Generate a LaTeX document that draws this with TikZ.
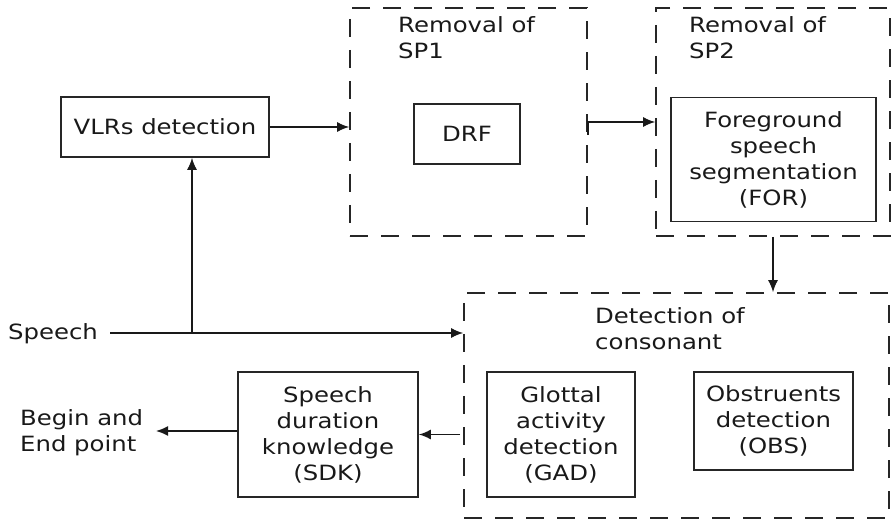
\documentclass[tikz,border=0pt]{standalone}
\usepackage{fontspec}
\setmainfont[FakeStretch=1.16]{DejaVu Sans}
\usetikzlibrary{arrows.meta}
\begin{document}
\begin{tikzpicture}[x=1pt,y=-1pt,
  every node/.style={font=\fontsize{21}{26}\selectfont, text=black!90},
  blk/.style={draw=black!85, line width=1.6pt, inner sep=0pt, align=center},
  dbox/.style={draw=black!85, line width=1.6pt, dash pattern=on 18pt off 13pt, inner sep=0pt},
  lbl/.style={inner sep=0pt, align=left},
  arr/.style={draw=black!90, line width=1.6pt, -{Latex[length=12pt,width=10pt]}},
  ln/.style={draw=black!90, line width=1.6pt}]
\useasboundingbox (0,0) rectangle (892,521);
% dashed groups
\node[dbox, minimum width=237pt, minimum height=228pt] (sp1) at (468.5,122) {};
\node[dbox, minimum width=234pt, minimum height=228pt] (sp2) at (773,122) {};
\node[dbox, minimum width=425pt, minimum height=225pt] (cons) at (676.5,405.5) {};
% group titles
\node[lbl, anchor=north west] (t1) at (398,16) {Removal of\\SP1};
\node[lbl, anchor=north west] (t2) at (689,16) {Removal of\\SP2};
\node[lbl, anchor=north west] (t3) at (595,307) {Detection of\\consonant};
% blocks
\node[blk, minimum width=208pt, minimum height=60pt] (vlr) at (165,127) {VLRs detection};
\node[blk, minimum width=106pt, minimum height=60pt] (drf) at (467,134) {DRF};
\node[blk, minimum width=205pt, minimum height=124pt] (for) at (773.5,159.5) {Foreground\\speech\\segmentation\\(FOR)};
\node[blk, minimum width=148pt, minimum height=125pt] (gad) at (561,434.5) {Glottal\\activity\\detection\\(GAD)};
\node[blk, minimum width=159pt, minimum height=98pt] (obs) at (773.5,421) {Obstruents\\detection\\(OBS)};
\node[blk, minimum width=180pt, minimum height=125pt] (sdk) at (328,434.5) {Speech\\duration\\knowledge\\(SDK)};
% free labels
\node[lbl, anchor=base west] (sp) at (8,340) {Speech};
\node[lbl, anchor=north west] (bep) at (20,409) {Begin and\\End point};
% connectors
\coordinate (spin) at (110,333);
\coordinate (jn) at (192,333);
\draw[arr] (spin) -- (spin -| cons.west);
\draw[arr] (jn) -- (jn |- vlr.south);
\draw[arr] (vlr.east) -- (vlr.east -| sp1.west);
\draw[arr] ([yshift=-13pt]sp1.east) -- (sp1.east) -- (sp1.east -| sp2.west);
\draw[arr] (sp2.south) -- (sp2.south |- cons.north);
\draw[arr] ([xshift=-3pt]cons.west |- sdk.east) -- (sdk.east);
\coordinate (bepend) at (156,431);
\draw[arr] (sdk.west |- bepend) -- (bepend);
\end{tikzpicture}
\end{document}
